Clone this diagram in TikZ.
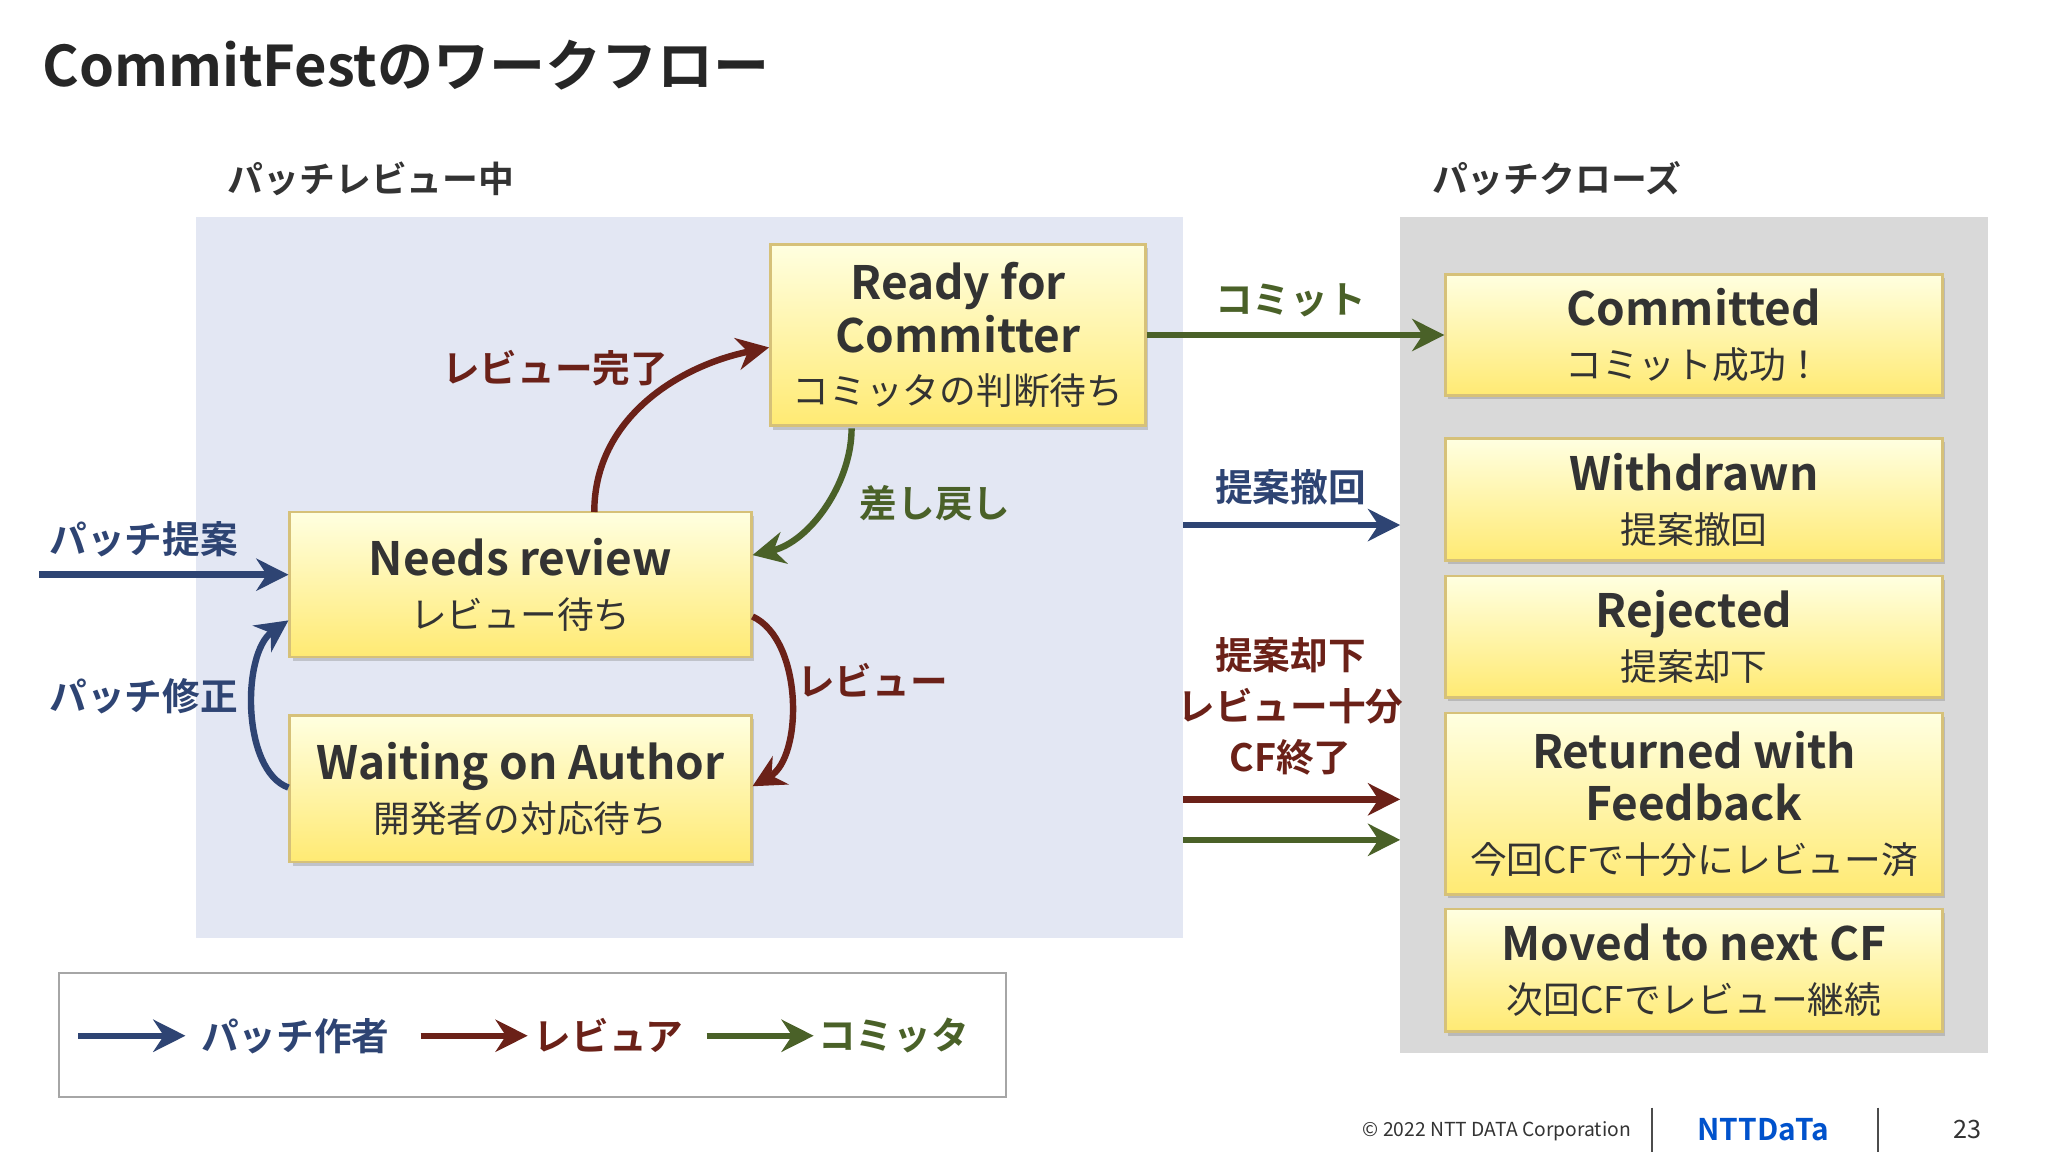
\documentclass[tikz,border=0pt]{standalone}
\usepackage{fontspec}
\setmainfont{Noto Sans CJK JP}[BoldFont={Noto Sans CJK JP Bold}]
\usetikzlibrary{arrows.meta,shadows}
\definecolor{cb}{HTML}{2E4473}
\definecolor{cr}{HTML}{6B2118}
\definecolor{cg}{HTML}{4A6128}
\definecolor{tx}{HTML}{333333}
\definecolor{pan}{HTML}{E3E7F3}
\newcommand{\jpx}{\fontsize{8}{9.8}\selectfont\mdseries}
\tikzset{
 st/.style={x=0.01cm,y=-0.01cm},
 ybox/.style={draw=yellow!60!orange!70!black!60,line width=0.6pt,top color=yellow!12,bottom color=yellow!70!orange!55,
   drop shadow={opacity=0.35,shadow xshift=0.6pt,shadow yshift=-0.8pt},align=center,text=tx,font=\fontsize{10}{11.5}\selectfont\bfseries,inner sep=0pt},
 ar/.style={line width=1.4pt,-{Stealth[length=7pt,width=7pt]}},
 lb/.style={font=\fontsize{8.2}{10}\selectfont\bfseries}
}
\begin{document}
\begin{tikzpicture}[st]
\useasboundingbox (0,0) rectangle (1568,882);
\fill[white] (0,0) rectangle (1568,882);
\node[anchor=west,text=black!85,font=\fontsize{12.2}{14}\selectfont\bfseries] (title) at (20,50) {CommitFestのワークフロー};
\fill[pan] (150,166) rectangle (906,718);
\fill[black!15] (1072,166) rectangle (1522,806);
\node[anchor=west,text=tx,font=\fontsize{7.8}{9}\selectfont\bfseries] (l1) at (162,137) {パッチレビュー中};
\node[anchor=west,text=tx,font=\fontsize{7.8}{9}\selectfont\bfseries] (l2) at (1084,137) {パッチクローズ};
% boxes
\node[ybox,minimum width=2.87cm,minimum height=1.39cm] (rfc) at (733.5,256.5) {Ready for\\Committer\\{\jpx コミッタの判断待ち}};
\node[ybox,minimum width=3.53cm,minimum height=1.11cm] (nr) at (398.5,447.5) {Needs review\\{\jpx レビュー待ち}};
\node[ybox,minimum width=3.53cm,minimum height=1.12cm] (wa) at (398.5,604) {Waiting on Author\\{\jpx 開発者の対応待ち}};
\node[ybox,minimum width=3.8cm,minimum height=0.93cm] (cm) at (1297,256.5) {Committed\\{\jpx コミット成功！}};
\node[ybox,minimum width=3.8cm,minimum height=0.93cm] (wd) at (1297,382.5) {Withdrawn\\{\jpx 提案撤回}};
\node[ybox,minimum width=3.8cm,minimum height=0.93cm] (rj) at (1297,487.5) {Rejected\\{\jpx 提案却下}};
\node[ybox,minimum width=3.8cm,minimum height=1.39cm] (rw) at (1297,615.5) {Returned with\\Feedback\\{\jpx 今回CFで十分にレビュー済}};
\node[ybox,minimum width=3.8cm,minimum height=0.94cm] (mv) at (1297,743) {Moved to next CF\\{\jpx 次回CFでレビュー継続}};
% right arrows
\coordinate (a1) at (906,402); \coordinate (a2) at (1072,402);
\coordinate (b1) at (906,612); \coordinate (b2) at (1072,612);
\coordinate (c1) at (906,643); \coordinate (c2) at (1072,643);
\draw[ar,cg] (rfc.east) -- (cm.west);
\node[lb,text=cg] (t1) at (988,230) {コミット};
\draw[ar,cb] (a1) -- (a2);
\node[lb,text=cb] (t2) at (988,373) {提案撤回};
\draw[ar,cr] (b1) -- (b2);
\draw[ar,cg] (c1) -- (c2);
\node[lb,text=cr,align=center,font=\fontsize{8.2}{11.1}\selectfont\bfseries] (t3) at (988,541) {提案却下\\レビュー十分\\CF終了};
% left
\coordinate (p1) at (30,440);
\draw[ar,cb] (p1) -- (nr.west |- p1);
\node[lb,text=cb] (t4) at (110,413) {パッチ提案};
\draw[ar,cr] (455,392) .. controls (455,320) and (520,280) .. (rfc.west |- 0,266);
\node[lb,text=cr] (t5) at (425,282) {レビュー完了};
\draw[ar,cg] (652,328) .. controls (652,370) and (620,415) .. (nr.east |- 0,425);
\node[lb,text=cg] (t6) at (716,385) {差し戻し};
\draw[ar,cr] (nr.east |- 0,472) .. controls (615,490) and (615,580) .. (wa.east |- 0,602);
\node[lb,text=cr] (t7) at (668,521) {レビュー};
\draw[ar,cb] (wa.west |- 0,603) .. controls (185,590) and (185,500) .. (nr.west |- 0,475);
\node[lb,text=cb] (t8) at (110,533) {パッチ修正};
% legend
\draw[black!35,fill=white,line width=0.5pt] (45,745) rectangle (770,840);
\coordinate (g1) at (60,793); \coordinate (g2) at (142,793);
\coordinate (g3) at (322,793); \coordinate (g4) at (404,793);
\coordinate (g5) at (541,793); \coordinate (g6) at (623,793);
\draw[ar,cb] (g1) -- (g2); \node[lb,text=cb] (k1) at (226,793) {パッチ作者};
\draw[ar,cr] (g3) -- (g4); \node[lb,text=cr] (k2) at (466,793) {レビュア};
\draw[ar,cg] (g5) -- (g6); \node[lb,text=cg] (k3) at (684,793) {コミッタ};
% footer
\node[font=\fontsize{4.2}{5}\selectfont,text=black!80] (f1) at (1146,866) {© 2022 NTT DATA Corporation};
\draw[black!70,line width=0.5pt] (1265,848) -- (1265,882);
\node[font=\fontsize{6.5}{8}\selectfont\bfseries,text=blue!60!cyan!80!black] (f2) at (1350,865) {NTTDaTa};
\draw[black!70,line width=0.5pt] (1438,848) -- (1438,882);
\node[font=\fontsize{5.5}{7}\selectfont,text=black!80] (f3) at (1506,865) {23};
\end{tikzpicture}
\end{document}
